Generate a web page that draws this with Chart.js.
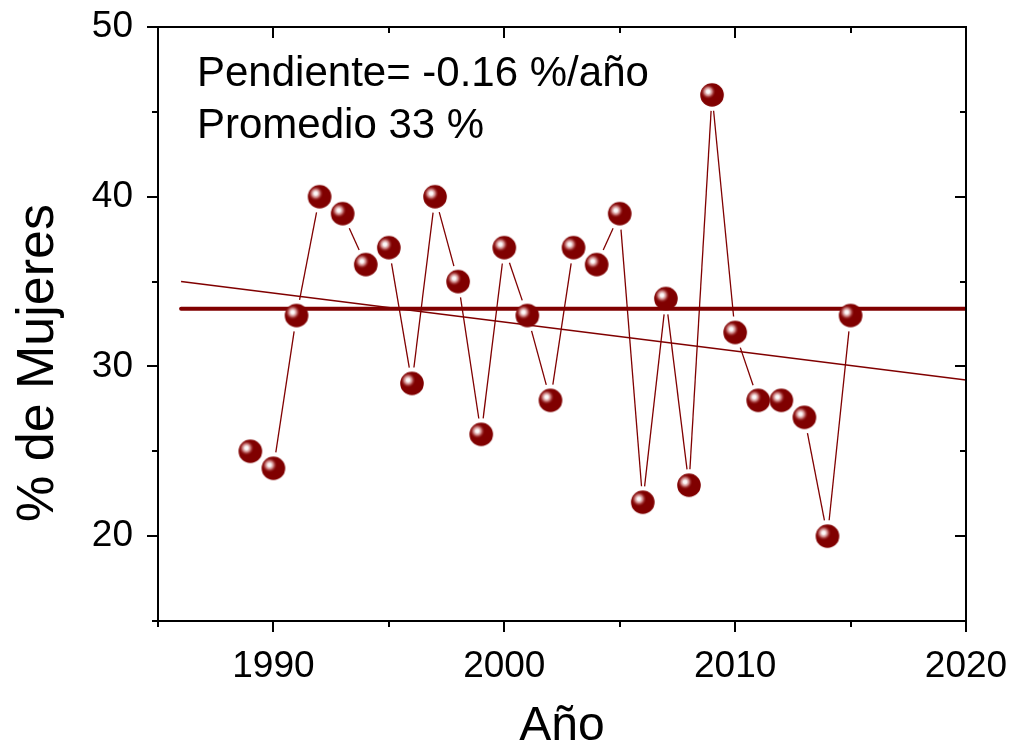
<!DOCTYPE html>
<html>
<head>
<meta charset="utf-8">
<script src="https://cdn.jsdelivr.net/npm/chart.js@4.4.1/dist/chart.umd.min.js"></script>
<style>
  html, body { margin: 0; padding: 0; background: #ffffff; }
  #wrap { width: 1015px; height: 751px; position: relative; }
</style>
</head>
<body>
<div id="wrap"><canvas id="c" width="1015" height="751"></canvas></div>
<script>
// ---- data ----
const years   = [1989, 1990, 1991, 1992, 1993, 1994, 1995, 1996, 1997, 1998, 1999, 2000, 2001, 2002,
                 2003, 2004, 2005, 2006, 2007, 2008, 2009, 2010, 2011, 2012, 2013, 2014, 2015];
const mujeres = [25, 24, 33, 40, 39, 36, 37, 29, 40, 35, 26, 37, 33, 28,
                 37, 36, 39, 22, 34, 23, 46, 32, 28, 28, 27, 20, 33];
const meanX   = [1986, 2020];
const meanY   = [33.4, 33.4];
const trendX  = [1986, 2020];
const trendY  = [35.0, 29.2];
const xMajorTicks = [1990, 2000, 2010, 2020];
const xMinorTicks = [1985, 1995, 2005, 2015];
const yMajorTicks = [20, 30, 40, 50];
const yMinorTicks = [15, 25, 35, 45];
const annotationLines = ['Pendiente= -0.16 %/año', 'Promedio 33 %'];
const xTitle = 'Año';
const yTitle = '% de Mujeres';

// ---- styling ----
const RED = '#800000';
const FONT = '"Liberation Sans", Arial, Helvetica, sans-serif';

function sphere(r) {
  const c = document.createElement('canvas');
  const s = Math.ceil(r * 2 + 2);
  c.width = s; c.height = s;
  const g = c.getContext('2d');
  const cx = s / 2, cy = s / 2;
  g.beginPath(); g.arc(cx, cy, r, 0, Math.PI * 2);
  g.fillStyle = RED; g.fill();
  const hx = cx - r * 0.33, hy = cy - r * 0.28;
  const grad = g.createRadialGradient(hx, hy, 0, hx, hy, r * 0.66);
  grad.addColorStop(0, 'rgba(255,255,255,1)');
  grad.addColorStop(0.22, 'rgba(255,255,255,0.95)');
  grad.addColorStop(0.52, 'rgba(222,160,160,0.8)');
  grad.addColorStop(1, 'rgba(128,0,0,0)');
  g.beginPath(); g.arc(cx, cy, r, 0, Math.PI * 2);
  g.fillStyle = grad; g.fill();
  return c;
}
const ball = sphere(11.8);

const toXY = (xs, ys) => xs.map((x, i) => ({ x: x, y: ys[i] }));

// connecting line with gaps around the symbols, from element positions computed by Chart.js
const gapLine = {
  id: 'gapLine',
  beforeDatasetDraw(chart, args) {
    if (args.index !== 0) return;
    const pts = chart.getDatasetMeta(0).data;
    const ctx = chart.ctx, gap = 16;
    ctx.save();
    ctx.strokeStyle = RED; ctx.lineWidth = 1.3;
    for (let i = 0; i < pts.length - 1; i++) {
      const a = pts[i], b = pts[i + 1];
      const dx = b.x - a.x, dy = b.y - a.y, L = Math.hypot(dx, dy);
      if (L <= 2 * gap) continue;
      const ux = dx / L, uy = dy / L;
      ctx.beginPath();
      ctx.moveTo(a.x + ux * gap, a.y + uy * gap);
      ctx.lineTo(b.x - ux * gap, b.y - uy * gap);
      ctx.stroke();
    }
    ctx.restore();
  }
};

// frame + major/minor ticks on all four sides
const frame = {
  id: 'frame',
  afterDatasetsDraw(chart) {
    const { ctx, chartArea: a, scales: { x, y } } = chart;
    ctx.save();
    ctx.strokeStyle = '#000'; ctx.lineWidth = 2; ctx.lineCap = 'square';
    ctx.strokeRect(a.left, a.top, a.right - a.left, a.bottom - a.top);
    ctx.lineCap = 'butt';
    const MAJ = 11, MIN = 6;
    const tickX = (v, len) => {
      const px = Math.round(x.getPixelForValue(v));
      ctx.beginPath(); ctx.moveTo(px, a.bottom); ctx.lineTo(px, a.bottom + len); ctx.stroke();
      ctx.beginPath(); ctx.moveTo(px, a.top); ctx.lineTo(px, a.top + len); ctx.stroke();
    };
    const tickY = (v, len) => {
      const py = Math.round(y.getPixelForValue(v));
      ctx.beginPath(); ctx.moveTo(a.left, py); ctx.lineTo(a.left - len, py); ctx.stroke();
      ctx.beginPath(); ctx.moveTo(a.right, py); ctx.lineTo(a.right - len, py); ctx.stroke();
    };
    xMajorTicks.forEach(v => tickX(v, MAJ));
    xMinorTicks.forEach(v => tickX(v, MIN));
    yMajorTicks.forEach(v => tickY(v, MAJ));
    yMinorTicks.forEach(v => tickY(v, MIN));
    ctx.restore();
  }
};

const texts = {
  id: 'texts',
  afterDraw(chart) {
    const { ctx, chartArea: a } = chart;
    ctx.save();
    ctx.fillStyle = '#000';
    ctx.font = '42px ' + FONT;
    ctx.textBaseline = 'alphabetic';
    ctx.textAlign = 'left';
    annotationLines.forEach((t, i) => ctx.fillText(t, a.left + 39, a.top + 59 + i * 52));
    // y axis title, rotated
    ctx.font = '52px ' + FONT;
    ctx.textAlign = 'center';
    ctx.textBaseline = 'alphabetic';
    ctx.translate(a.left - 105, (a.top + a.bottom) / 2 + 39);
    ctx.rotate(-Math.PI / 2);
    ctx.fillText(yTitle, 0, 0);
    ctx.restore();
  }
};

new Chart(document.getElementById('c'), {
  type: 'scatter',
  data: {
    datasets: [
      { label: 'Mujeres', data: toXY(years, mujeres), showLine: false,
        pointStyle: ball, pointRadius: 11.8, pointHoverRadius: 11.8, order: 0 },
      { label: 'Promedio', data: toXY(meanX, meanY), showLine: true, borderColor: RED,
        borderWidth: 4, pointRadius: 0, borderCapStyle: 'round', order: 1 },
      { label: 'Tendencia', data: toXY(trendX, trendY), showLine: true, borderColor: RED,
        borderWidth: 1.5, pointRadius: 0, order: 2 }
    ]
  },
  options: {
    responsive: false,
    animation: false,
    events: [],
    layout: { padding: { top: 27, right: 49, left: 0, bottom: 0 } },
    plugins: { legend: { display: false }, tooltip: { enabled: false } },
    scales: {
      x: {
        type: 'linear', min: 1985, max: 2020,
        afterBuildTicks: s => { s.ticks = xMajorTicks.map(v => ({ value: v })); },
        afterFit: s => { s.height = 130; s.paddingLeft = 0; s.paddingRight = 0; },
        grid: { display: false }, border: { display: false },
        ticks: { color: '#000', font: { family: FONT, size: 37 }, padding: 16, maxRotation: 0,
                 callback: v => String(v) },
        title: { display: true, text: xTitle, color: '#000',
                 font: { family: FONT, size: 48, lineHeight: 1.0 },
                 padding: { top: 0, bottom: 0 } }
      },
      y: {
        type: 'linear', min: 15, max: 50,
        afterBuildTicks: s => { s.ticks = yMajorTicks.map(v => ({ value: v })); },
        afterFit: s => { s.width = 158; s.paddingTop = 0; s.paddingBottom = 0; },
        grid: { display: false }, border: { display: false },
        ticks: { color: '#000', font: { family: FONT, size: 37 }, padding: 17,
                 callback: v => String(v) },
        title: { display: false }
      }
    }
  },
  plugins: [gapLine, frame, texts]
});
</script>
</body>
</html>
